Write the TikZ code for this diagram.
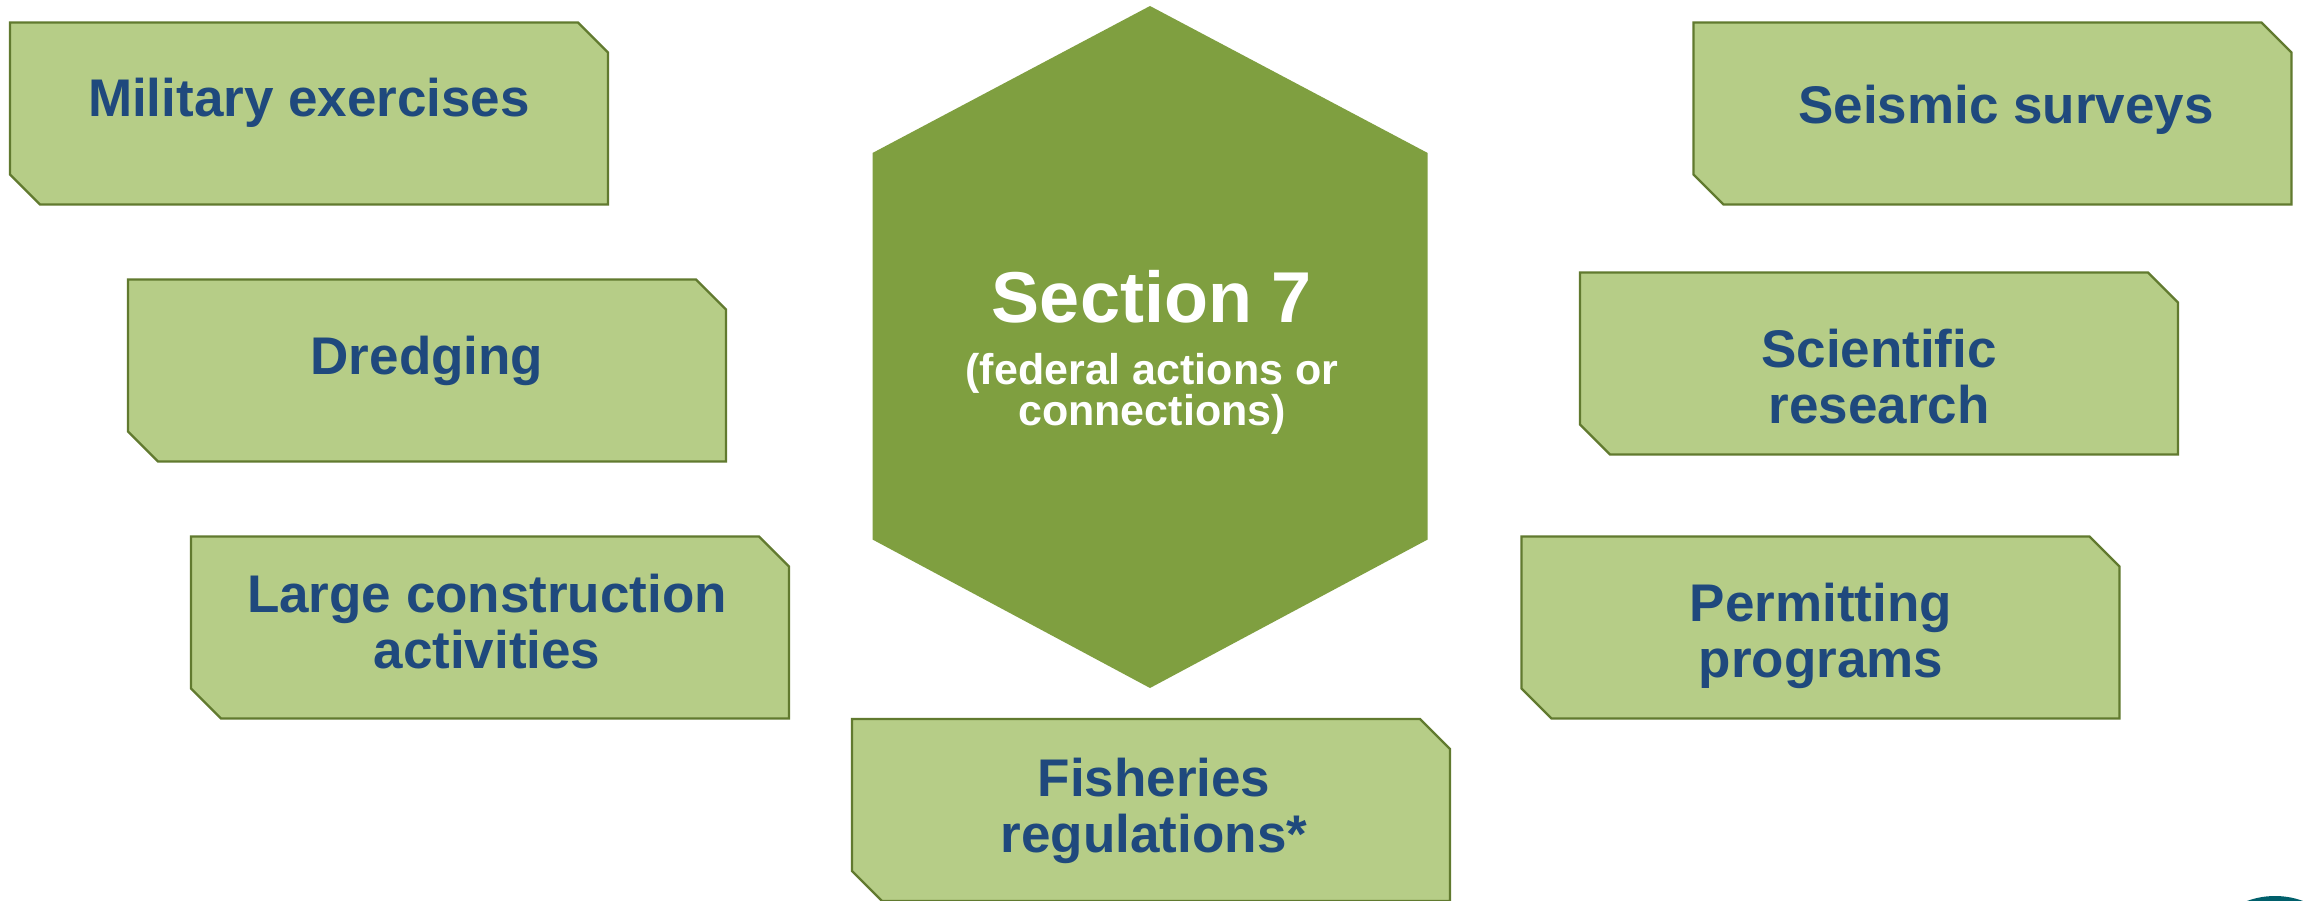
\documentclass[tikz,border=0pt]{standalone}
\usepackage{fontspec}
\setmainfont{Liberation Sans}
\definecolor{boxfill}{HTML}{B6CD87}
\definecolor{boxline}{HTML}{617A2F}
\definecolor{hexfill}{HTML}{7F9F40}
\definecolor{txtblue}{HTML}{1F497D}
\definecolor{logoteal}{HTML}{005F6B}
\tikzset{
  chbox/.style={fill=boxfill, draw=boxline, line width=2.2pt, line join=miter},
  boxtext/.style={text=txtblue, font=\bfseries\fontsize{53}{56}\selectfont, align=center, anchor=base, inner sep=0pt},
  hextitle/.style={text=white, font=\bfseries\fontsize{72}{80}\selectfont, anchor=base, inner sep=0pt},
  hexsub/.style={text=white, font=\bfseries\fontsize{43}{41}\selectfont, align=center, anchor=base, inner sep=0pt}
}
% chamfered box: #1 = left x, #2 = top y (width 598, height 182, chamfer 30)
\newcommand{\chamferbox}[2]{%
  \draw[chbox] (#1,#2) -- ({#1+568},#2) -- ({#1+598},{#2+30}) -- ({#1+598},{#2+182})
    -- ({#1+30},{#2+182}) -- (#1,{#2+152}) -- cycle;}
\begin{document}
\begin{tikzpicture}[x=1pt,y=-1pt]
\useasboundingbox (0,0) rectangle (2303,901);
\clip (0,0) rectangle (2303,901);
\fill[white] (0,0) rectangle (2303,901);

% central hexagon
\fill[hexfill] (1150,6) -- (1427.7,153) -- (1427.7,539.5) -- (1150,688)
  -- (872.5,539.5) -- (872.5,153) -- cycle;
\node[hextitle] (sec) at (1152,323) {Section 7};
% base anchor of a multi-line node = baseline of its last line
\node[hexsub] (secsub) at (1152,425) {(federal actions or\\connections)};

% boxes
\chamferbox{10}{22.5}
\node[boxtext] (mil) at (309,117) {Military exercises};

\chamferbox{128}{279.5}
\node[boxtext] (dre) at (427,374) {Dredging};

\chamferbox{191}{536.5}
\node[boxtext] (con) at (487,668) {Large construction\\activities};

\chamferbox{852}{719}
\node[boxtext] (fis) at (1154,852) {Fisheries\\regulations*};

\chamferbox{1693.5}{22.5}
\node[boxtext] (sei) at (2006,124) {Seismic surveys};

\chamferbox{1580}{272.5}
\node[boxtext] (sci) at (1879,423) {Scientific\\research};

\chamferbox{1521.5}{536.5}
\node[boxtext] (per) at (1821,677) {Permitting\\programs};

% partial logo at bottom right
\fill[logoteal] (2275,977) circle (81);
\end{tikzpicture}
\end{document}
